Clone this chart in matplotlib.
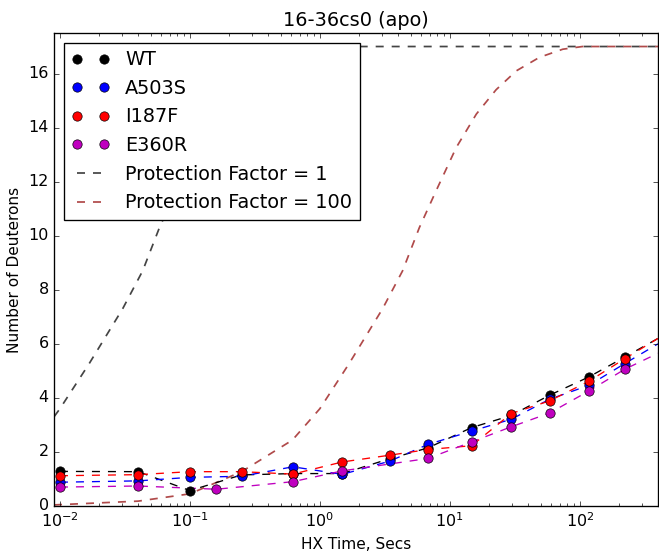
import matplotlib
matplotlib.use('Agg')
import matplotlib.pyplot as plt

plt.style.use('classic')

title = "16-36cs0 (apo)"
xlabel = "HX Time, Secs"
ylabel = "Number of Deuterons"

# measured points
wt_t = [0.01, 0.04, 0.1, 0.25, 0.62, 1.49, 3.45, 6.8, 14.7, 29.7, 58.6, 117, 222]
wt_d = [1.28, 1.27, 0.57, 1.15, 1.2, 1.2, 1.75, 2.15, 2.9, 3.35, 4.1, 4.77, 5.51]
a503s_t = [0.01, 0.04, 0.1, 0.25, 0.62, 1.49, 3.45, 6.8, 14.7, 29.7, 58.6, 117, 222]
a503s_d = [0.88, 0.93, 1.06, 1.1, 1.45, 1.17, 1.66, 2.28, 2.77, 3.21, 3.95, 4.46, 5.27]
i187f_t = [0.01, 0.04, 0.1, 0.25, 0.62, 1.49, 3.45, 6.8, 14.7, 29.7, 58.6, 117, 222]
i187f_d = [1.12, 1.16, 1.27, 1.27, 1.18, 1.63, 1.88, 2.09, 2.23, 3.42, 3.89, 4.61, 5.45]
e360r_t = [0.01, 0.04, 0.16, 0.62, 1.49, 6.8, 14.7, 29.7, 58.6, 117, 222]
e360r_d = [0.7, 0.74, 0.62, 0.9, 1.3, 1.76, 2.37, 2.93, 3.44, 4.25, 5.06]

# value of each fit line at the right edge
t_end = 400
wt_end = 6.2
a503s_end = 6.0
i187f_end = 6.2
e360r_end = 5.65

# theoretical curves
pf1_t = [0.009, 0.01, 0.0168, 0.0304, 0.0433, 0.0583, 0.0784, 0.112, 0.16, 0.227,
         0.325, 0.49, 0.74, 1.05, 400]
pf1_d = [3.3, 3.6, 5.27, 7.3, 8.7, 10.3, 11.66, 13.26, 14.5, 15.4,
         16.1, 16.6, 16.9, 17.0, 17.0]
pf100_t = [0.009, 0.01, 0.04, 0.1, 0.25, 0.615, 1.0, 1.68, 3.04, 4.33, 5.83, 7.84,
           11.2, 16, 22.7, 32.5, 49, 74, 105, 400]
pf100_d = [0.04, 0.05, 0.18, 0.45, 1.27, 2.44, 3.6, 5.27, 7.3, 8.7, 10.3, 11.66,
           13.26, 14.5, 15.4, 16.1, 16.6, 16.9, 17.0, 17.0]

DPI = 96
fig = plt.figure(figsize=(659 / DPI, 558 / DPI), dpi=DPI, facecolor='white')
ax = fig.add_axes([54 / 659, 52 / 558, 604 / 659, 473 / 558])
ax.set_facecolor('white')

series = [
    ("WT", wt_t, wt_d, wt_end, 'k'),
    ("A503S", a503s_t, a503s_d, a503s_end, 'b'),
    ("I187F", i187f_t, i187f_d, i187f_end, 'r'),
    ("E360R", e360r_t, e360r_d, e360r_end, 'm'),
]

for name, t, d, dend, c in series:
    ax.plot(list(t) + [t_end], list(d) + [dend], '--', color=c, lw=1, zorder=2)

for name, t, d, dend, c in series:
    ax.plot(t, d, linestyle='none', marker='o', color=c, markersize=7,
            markeredgecolor='k', markeredgewidth=0.5, label=name, zorder=3)

ax.plot(pf1_t, pf1_d, '--', color='#444444', lw=1.3, label='Protection Factor = 1', zorder=1)
ax.plot(pf100_t, pf100_d, '--', color='#b04a4a', lw=1.3, label='Protection Factor = 100', zorder=1)

ax.set_xscale('log')
ax.set_xlim(0.009, 400)
ax.set_ylim(0, 17.5)
ax.set_yticks(range(0, 17, 2))
ax.tick_params(labelsize=12)
ax.set_title(title, fontsize=14.4)
ax.set_xlabel(xlabel, fontsize=11.5)
ax.set_ylabel(ylabel, fontsize=11.5)

leg = ax.legend(loc='upper left', numpoints=2, fontsize=14.4, fancybox=False)
leg.get_frame().set_edgecolor('k')
leg.set_zorder(5)

fig.savefig('out.png', dpi=DPI, facecolor='white')
